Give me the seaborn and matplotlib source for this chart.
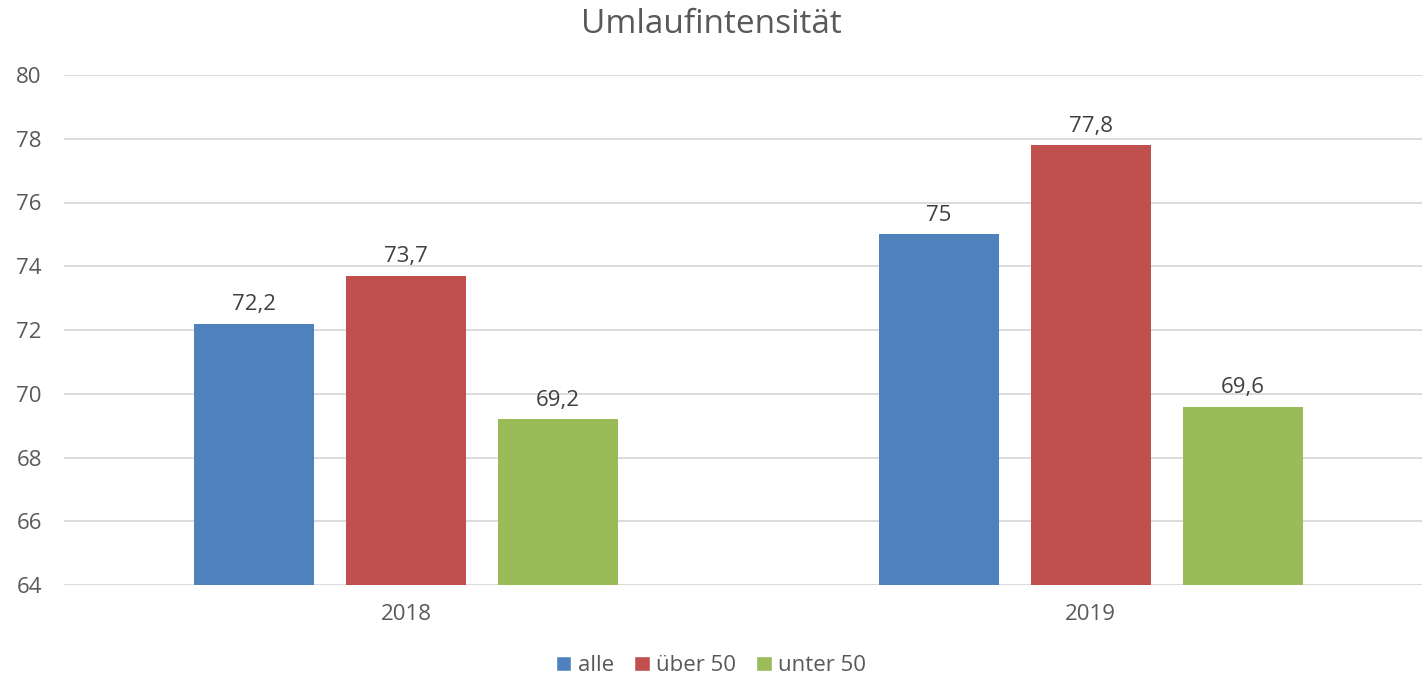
import pandas as pd
import seaborn as sns
import matplotlib.pyplot as plt
from matplotlib.patches import Patch

years = ["2018", "2019"]
groups = ["alle", "über 50", "unter 50"]
values_alle = [72.2, 75.0]
values_ueber = [73.7, 77.8]
values_unter = [69.2, 69.6]
colors = ["#4F81BD", "#C0504D", "#9BBB59"]

df = pd.DataFrame({
    "Jahr": years * 3,
    "Gruppe": [g for g in groups for _ in years],
    "Wert": values_alle + values_ueber + values_unter,
})

sns.set_style("white")
plt.rcParams["font.family"] = ["Open Sans", "DejaVu Sans"]

fig = plt.figure(figsize=(14.22, 6.76), dpi=100)
ax = fig.add_axes([64 / 1422, 1 - 585 / 676, 1 - 64 / 1422, (585 - 75) / 676])

sns.barplot(data=df, x="Jahr", y="Wert", hue="Gruppe", hue_order=groups,
            palette=colors, width=0.666, gap=0.21, ax=ax, legend=False,
            saturation=1, linewidth=0)

ax.set_ylim(64, 80)
ax.set_yticks(range(64, 81, 2))
ax.set_xlim(-0.5, 1.484)
ax.grid(axis="y", color="#d9d9d9", linewidth=1.3)
ax.set_axisbelow(True)
for s in ax.spines.values():
    s.set_visible(False)
ax.set_xlabel("")
ax.set_ylabel("")
ax.tick_params(axis="both", length=0, labelsize=16, labelcolor="#595959")
ax.tick_params(axis="x", pad=14)
ax.tick_params(axis="y", pad=16)

for cont in ax.containers:
    labels = [f"{v:g}".replace(".", ",") for v in cont.datavalues]
    ax.bar_label(cont, labels=labels, padding=6, fontsize=16, color="#404040")

fig.suptitle("Umlaufintensität", y=0.988, fontsize=24, color="#595959")

handles = [Patch(facecolor=c, label=g) for c, g in zip(colors, groups)]
fig.legend(handles=handles, loc="lower center", bbox_to_anchor=(0.5, -0.03),
           ncol=3, frameon=False, fontsize=16, handlelength=0.7,
           handleheight=0.7, handletextpad=0.3, columnspacing=0.9,
           labelcolor="#595959")

fig.savefig("out.png", dpi=100)
